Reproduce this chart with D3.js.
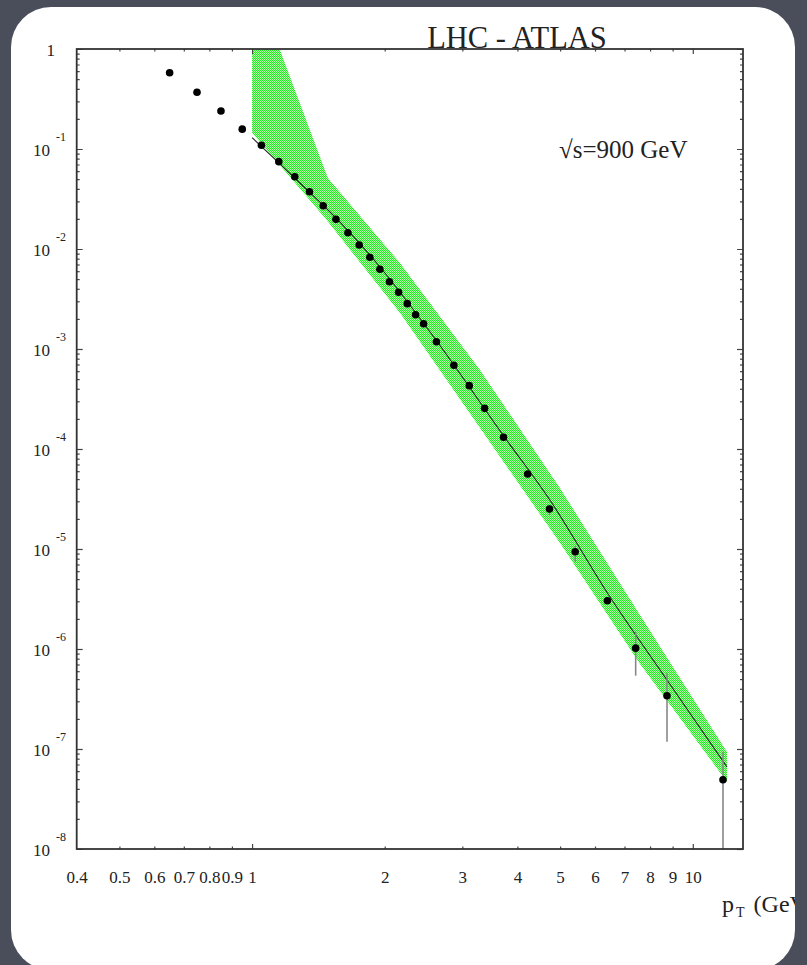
<!DOCTYPE html>
<html>
<head>
<meta charset="utf-8">
<script src="https://cdn.jsdelivr.net/npm/d3@7"></script>
<style>
  body { margin: 0; background: #4a4e5b; }
  svg { display: block; }
  svg text { font-family: "Liberation Serif", "Times New Roman", serif; fill: #222; }
</style>
</head>
<body>
<script>
// measured points (pT in GeV, yield)
const ptPoints = [0.65, 0.75, 0.85, 0.95, 1.05, 1.15, 1.25, 1.35, 1.45, 1.55, 1.65, 1.75, 1.85, 1.95,
  2.05, 2.15, 2.25, 2.35, 2.45, 2.62, 2.87, 3.11, 3.37, 3.72, 4.22, 4.73, 5.41, 6.40, 7.42, 8.74, 11.71];
const yieldPoints = [0.579, 0.369, 0.240, 0.158, 0.109, 0.0747, 0.0528, 0.0374, 0.0271, 0.0198, 0.01456, 0.01096, 0.00826, 0.00627,
  4.71e-3, 3.69e-3, 2.84e-3, 2.20e-3, 1.79e-3, 1.18e-3, 6.87e-4, 4.30e-4, 2.55e-4, 1.31e-4, 5.62e-5, 2.51e-5, 9.40e-6, 3.04e-6, 1.02e-6, 3.41e-7, 4.93e-8];

// visible error bars
const errPt = [4.73, 5.41, 7.42, 8.74, 11.71];
const errLow = [2.19e-5, 7.46e-6, 5.41e-7, 1.18e-7, 1e-9];
const errHigh = [2.75e-5, 1.07e-5, 1.49e-6, 5.71e-7, 9.4e-8];

// theory curve
const linePt = [1.0, 1.284, 1.583, 1.951, 2.614, 3.71, 4.74, 6.49, 8.74, 11.96];
const lineVal = [0.130, 0.0457, 0.0186, 6.61e-3, 1.23e-3, 1.38e-4, 3.09e-5, 3.31e-6, 4.90e-7, 6.61e-8];

// uncertainty band edges
const bandUpPt = [1.0, 1.157, 1.486, 2.166, 3.29, 4.996, 7.59, 11.96];
const bandUp = [5.43, 0.977, 0.0513, 7.24e-3, 6.17e-4, 4.07e-5, 2.19e-6, 9.33e-8];
const bandLowPt = [1.0, 1.464, 2.166, 3.29, 4.996, 7.59, 11.96];
const bandLow = [0.145, 0.0204, 2.29e-3, 1.62e-4, 1.15e-5, 7.08e-7, 4.68e-8];

// axes
const xLabels = [0.4, 0.5, 0.6, 0.7, 0.8, 0.9, 1, 2, 3, 4, 5, 6, 7, 8, 9, 10];
const xMajor = [1, 10];
const xMinor = [0.5, 0.6, 0.7, 0.8, 0.9, 2, 3, 4, 5, 6, 7, 8, 9];
const yExponents = [0, -1, -2, -3, -4, -5, -6, -7, -8];

const W = 807, H = 965;
const pLeft = 76.7, pRight = 743, pTop = 49, pBottom = 849;

const svg = d3.select("body").append("svg")
  .attr("width", W)
  .attr("height", H);

const defs = svg.append("defs");
const pat = defs.append("pattern")
  .attr("id", "greenDots")
  .attr("patternUnits", "userSpaceOnUse")
  .attr("width", 2).attr("height", 2);
pat.append("rect").attr("width", 2).attr("height", 2).attr("fill", "#b4ffaa");
pat.append("rect").attr("width", 1).attr("height", 1).attr("fill", "#22ec22");
pat.append("rect").attr("x", 1).attr("y", 1).attr("width", 1).attr("height", 1).attr("fill", "#22ec22");

defs.append("clipPath").attr("id", "cardClip")
  .append("rect").attr("x", 11).attr("y", 7).attr("width", 784).attr("height", 963).attr("rx", 40);
defs.append("clipPath").attr("id", "frameClip")
  .append("rect").attr("x", pLeft).attr("y", pTop).attr("width", pRight - pLeft).attr("height", pBottom - pTop);

// card
svg.append("rect")
  .attr("x", 11).attr("y", 7)
  .attr("width", 784).attr("height", 963)
  .attr("rx", 40)
  .attr("fill", "#ffffff");

const card = svg.append("g").attr("clip-path", "url(#cardClip)");

const x = d3.scaleLog().domain([0.4, 13]).range([pLeft, pRight]);
const y = d3.scaleLog().domain([1e-8, 1]).range([pBottom, pTop]);

const plot = card.append("g").attr("clip-path", "url(#frameClip)");

// band polygon
const bandPts = bandUpPt.map((p, i) => [p, bandUp[i]])
  .concat(bandLowPt.map((p, i) => [p, bandLow[i]]).reverse());
plot.append("path")
  .attr("d", d3.line().x(d => x(d[0])).y(d => y(d[1]))(bandPts) + "Z")
  .attr("fill", "url(#greenDots)");

// theory line
plot.append("path")
  .datum(linePt.map((p, i) => [p, lineVal[i]]))
  .attr("d", d3.line().x(d => x(d[0])).y(d => y(d[1])).curve(d3.curveCatmullRom))
  .attr("fill", "none")
  .attr("stroke", "#222")
  .attr("stroke-width", 1.1);

// error bars
plot.selectAll("line.err")
  .data(errPt)
  .enter().append("line")
  .attr("class", "err")
  .attr("x1", d => x(d)).attr("x2", d => x(d))
  .attr("y1", (d, i) => y(errLow[i]))
  .attr("y2", (d, i) => y(errHigh[i]))
  .attr("stroke", "#888")
  .attr("stroke-width", 1.6);

// data points
plot.selectAll("circle")
  .data(ptPoints)
  .enter().append("circle")
  .attr("cx", d => x(d))
  .attr("cy", (d, i) => y(yieldPoints[i]))
  .attr("r", 3.8)
  .attr("fill", "#000");

// tick marks using d3 axes
function ticks(axisFn, values, size, tx, ty) {
  const g = card.append("g")
    .attr("transform", `translate(${tx},${ty})`)
    .call(axisFn.tickValues(values).tickSize(size).tickFormat(""));
  g.select(".domain").remove();
  g.selectAll("line").attr("stroke", "#444").attr("stroke-width", 1.2);
}
const yMajor = yExponents.map(e => Math.pow(10, e));
const yMinor = [];
yExponents.slice(0, -1).forEach(e => {
  for (let k = 2; k <= 9; k++) yMinor.push(k * Math.pow(10, e - 1));
});

ticks(d3.axisBottom(x), xMajor, -5, 0, pBottom);
ticks(d3.axisBottom(x), xMinor, -2.5, 0, pBottom);
ticks(d3.axisTop(x), xMajor, -5, 0, pTop);
ticks(d3.axisTop(x), xMinor, -2.5, 0, pTop);
ticks(d3.axisLeft(y), yMajor, -6, pLeft, 0);
ticks(d3.axisLeft(y), yMinor, -3, pLeft, 0);
ticks(d3.axisRight(y), yMajor, -6, pRight, 0);
ticks(d3.axisRight(y), yMinor, -3, pRight, 0);

// frame
card.append("rect")
  .attr("x", pLeft).attr("y", pTop)
  .attr("width", pRight - pLeft).attr("height", pBottom - pTop)
  .attr("fill", "none")
  .attr("stroke", "#333")
  .attr("stroke-width", 1.8);

// x tick labels
const xl = card.append("g")
  .attr("transform", `translate(0,${pBottom})`)
  .call(d3.axisBottom(x).tickValues(xLabels).tickSize(0).tickPadding(22).tickFormat(d => String(d)));
xl.select(".domain").remove();
xl.attr("font-family", null);
xl.selectAll("text")
  .style("font-size", "17px");

// y tick labels
yExponents.forEach(e => {
  const yy = y(Math.pow(10, e));
  if (e === 0) {
    card.append("text")
      .attr("x", 55).attr("y", yy + 7)
      .attr("text-anchor", "end")
      .style("font-size", "17px")
      .text("1");
  } else {
    card.append("text")
      .attr("x", 50).attr("y", yy + 7)
      .attr("text-anchor", "end")
      .style("font-size", "17px")
      .text("10");
    card.append("text")
      .attr("x", 56).attr("y", yy - 8)
      .style("font-size", "12px")
      .text(String(e));
  }
});

// titles
card.append("text")
  .attr("x", 517).attr("y", 48)
  .attr("text-anchor", "middle")
  .style("font-size", "30.5px")
  .text("LHC - ATLAS");

card.append("text")
  .attr("x", 559).attr("y", 158)
  .style("font-size", "25px")
  .text("\u221As=900 GeV");

// axis title, cut by the card edge as in the original
const xt = card.append("text")
  .attr("x", 722).attr("y", 912)
  .style("font-size", "24px");
xt.append("tspan").text("p");
xt.append("tspan").style("font-size", "14px").attr("dx", 2).attr("dy", 5).text("T");
xt.append("tspan").attr("dx", 3).attr("dy", -5).text(" (GeV)");
</script>
</body>
</html>
